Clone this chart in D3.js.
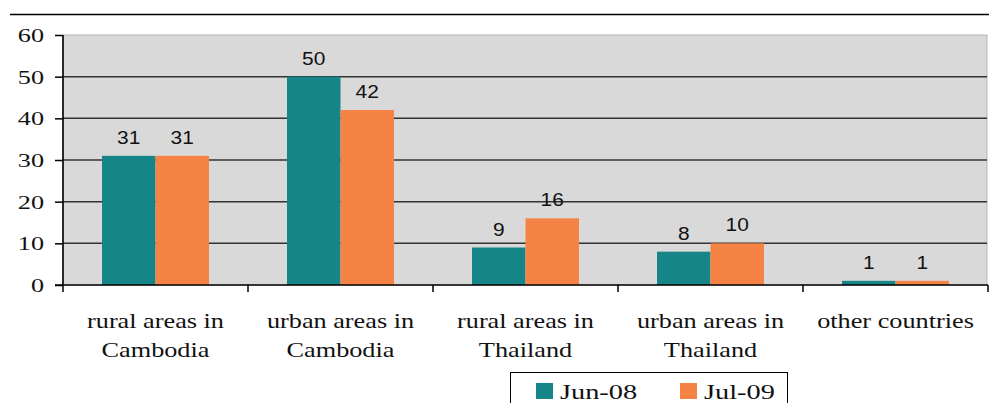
<!DOCTYPE html>
<html>
<head>
<meta charset="utf-8">
<script src="https://cdn.jsdelivr.net/npm/d3@7"></script>
<style>
  html, body { margin: 0; padding: 0; background: #fff; }
  svg { display: block; }
</style>
</head>
<body>
<svg id="chart" width="989" height="403"></svg>
<script>
// Migration destinations, share of respondents (%)
const categories = [
  ["rural areas in", "Cambodia"],
  ["urban areas in", "Cambodia"],
  ["rural areas in", "Thailand"],
  ["urban areas in", "Thailand"],
  ["other countries"]
];
const seriesNames = ["Jun-08", "Jul-09"];
const jun08 = [31, 50, 9, 8, 1];
const jul09 = [31, 42, 16, 10, 1];
const yTicks = [0, 10, 20, 30, 40, 50, 60];
const colors = ["#168587", "#f58345"];

const serif = "Liberation Serif, Times New Roman, serif";
const sans = "Liberation Sans, Arial, sans-serif";

const svg = d3.select("#chart");
const margin = { left: 63, right: 1, top: 35, bottom: 118 };
const W = 989, H = 403;
const plotW = W - margin.left - margin.right;
const plotH = H - margin.top - margin.bottom;

const x0 = d3.scaleBand().domain(d3.range(categories.length)).range([0, plotW]);
const x1 = d3.scaleBand().domain([0, 1]).range([39, x0.bandwidth() - 39]);
const y = d3.scaleLinear().domain([0, 60]).range([plotH, 0]);

// Rule across the top
svg.append("line").attr("x1", 10).attr("x2", W).attr("y1", 14.5).attr("y2", 14.5)
  .attr("stroke", "#000").attr("stroke-width", 1.6);

const g = svg.append("g").attr("transform", `translate(${margin.left},${margin.top})`);

// Plot background
g.append("rect").attr("x", 0).attr("y", 0).attr("width", plotW - 1).attr("height", plotH)
  .attr("fill", "#d9d9d9").attr("stroke", "#b8b8b8").attr("stroke-width", 1);

// Gridlines
g.append("g").selectAll("line").data(yTicks.filter(t => t > 0 && t < 60)).join("line")
  .attr("x1", 0).attr("x2", plotW - 1)
  .attr("y1", d => y(d)).attr("y2", d => y(d))
  .attr("stroke", "#333").attr("stroke-width", 1.5);

// Bars
const groups = g.append("g").selectAll("g").data(categories.map((c, i) => [jun08[i], jul09[i]])).join("g")
  .attr("transform", (d, i) => `translate(${x0(i)},0)`);
groups.selectAll("rect").data(d => d).join("rect")
  .attr("x", (d, j) => x1(j)).attr("width", x1.bandwidth())
  .attr("y", d => y(d)).attr("height", d => plotH - y(d))
  .attr("fill", (d, j) => colors[j]);
groups.selectAll("text").data(d => d).join("text")
  .attr("transform", (d, j) => `translate(${x1(j) + x1.bandwidth() / 2},${y(d) - 12}) scale(1.1,1)`)
  .attr("text-anchor", "middle")
  .attr("font-family", sans)
  .attr("font-size", 19).attr("fill", "#111")
  .text(d => d);

// Y axis
const yAxis = g.append("g").call(d3.axisLeft(y).tickValues(yTicks).tickSize(8).tickPadding(0));
yAxis.select(".domain").attr("stroke", "#000").attr("stroke-width", 1.6).attr("d", `M0,0V${plotH}`);
yAxis.selectAll(".tick line").attr("stroke", "#000").attr("stroke-width", 1.5);
yAxis.selectAll(".tick text")
  .attr("x", null).attr("dy", null)
  .attr("transform", "translate(-19,6.5) scale(1.38,1)")
  .attr("font-family", serif)
  .attr("font-size", 19).attr("fill", "#111");

// X axis
const xAxisG = g.append("g").attr("transform", `translate(0,${plotH})`);
xAxisG.append("line").attr("x1", -8).attr("x2", plotW).attr("y1", 0).attr("y2", 0)
  .attr("stroke", "#000").attr("stroke-width", 1.6);
xAxisG.selectAll("line.tk").data(d3.range(categories.length + 1)).join("line").attr("class", "tk")
  .attr("x1", i => i * x0.bandwidth()).attr("x2", i => i * x0.bandwidth())
  .attr("y1", 0).attr("y2", 7).attr("stroke", "#000").attr("stroke-width", 1.5);
const lbl = xAxisG.selectAll("text").data(categories).join("text")
  .attr("transform", (d, i) => `translate(${x0(i) + x0.bandwidth() / 2},43) scale(1.25,1)`)
  .attr("text-anchor", "middle")
  .attr("font-family", serif)
  .attr("font-size", 21).attr("fill", "#111");
lbl.selectAll("tspan").data(d => d).join("tspan")
  .attr("x", 0)
  .attr("dy", (d, k) => k === 0 ? 0 : 29)
  .text(d => d);

// Legend
const lg = svg.append("g").attr("transform", "translate(510,372)");
lg.append("rect").attr("x", 0.5).attr("y", 0.5).attr("width", 277).attr("height", 40)
  .attr("fill", "#fff").attr("stroke", "#000").attr("stroke-width", 1);
const items = lg.selectAll("g").data(seriesNames).join("g")
  .attr("transform", (d, i) => `translate(${26 + i * 144},11)`);
items.append("rect").attr("width", 17).attr("height", 16).attr("fill", (d, i) => colors[i]);
items.append("text").attr("transform", "translate(24,16) scale(1.35,1)")
  .attr("font-family", serif)
  .attr("font-size", 21).attr("fill", "#111").text(d => d);
</script>
</body>
</html>
